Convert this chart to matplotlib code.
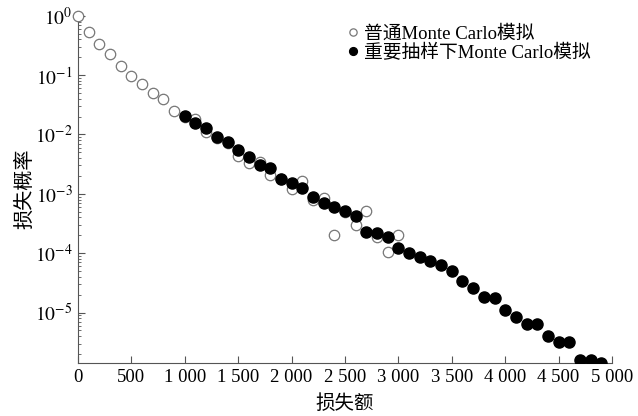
import matplotlib
matplotlib.use("Agg")
import matplotlib.pyplot as plt
from matplotlib.ticker import FixedLocator, LogLocator, NullFormatter

plt.rcParams["font.family"] = ["Liberation Serif", "Noto Sans CJK SC"]
plt.rcParams["mathtext.fontset"] = "stix"

# plain Monte Carlo estimate
mc_loss = [0, 100, 200, 300, 400, 500, 600, 700, 800, 900,
           1000, 1100, 1200, 1300, 1400, 1500, 1600, 1700, 1800, 1900,
           2000, 2100, 2200, 2300, 2400, 2500, 2600, 2700, 2800, 2900, 3000]
mc_prob = [1.0, 0.54, 0.33, 0.224, 0.144, 0.096, 0.071, 0.049, 0.039, 0.025,
           0.020, 0.018, 0.011, 0.0087, 0.0072, 0.0043, 0.0033, 0.0034, 0.0021, 0.0018,
           0.0012, 0.00166, 0.00079, 0.00085, 0.000204, 0.0005, 0.0003, 0.00052,
           0.00019, 0.000105, 0.000204]

# importance sampling estimate
is_loss = [1000, 1100, 1200, 1300, 1400, 1500, 1600, 1700, 1800, 1900,
           2000, 2100, 2200, 2300, 2400, 2500, 2600, 2700, 2800, 2900,
           3000, 3100, 3200, 3300, 3400, 3500, 3600, 3700, 3800, 3900,
           4000, 4100, 4200, 4300, 4400, 4500, 4600, 4700, 4800, 4900]
is_prob = [0.0202, 0.0156, 0.0127, 0.0092, 0.0074, 0.0055, 0.0042, 0.0030, 0.0027, 0.00178,
           0.00153, 0.00124, 0.00090, 0.00071, 0.00061, 0.00052, 0.00042, 0.000231, 0.000217, 0.00019,
           0.000123, 0.000102, 8.6e-5, 7.5e-5, 6.2e-5, 5.1e-5, 3.4e-5, 2.6e-5, 1.8e-5, 1.78e-5,
           1.12e-5, 8.3e-6, 6.5e-6, 6.5e-6, 4.07e-6, 3.2e-6, 3.2e-6, 1.58e-6, 1.6e-6, 1.4e-6]

x_ticks = [0, 500, 1000, 1500, 2000, 2500, 3000, 3500, 4000, 4500, 5000]
x_labels = ["0", "500", "1 000", "1 500", "2 000", "2 500", "3 000",
            "3 500", "4 000", "4 500", "5 000"]

fig = plt.figure(figsize=(6.38, 4.16), dpi=100)
ax = fig.add_axes([0.1223, 0.1274, 0.8369, 0.8389])

ax.plot(mc_loss, mc_prob, "o", ms=7.5, mfc="white", mec="#777777", mew=0.9,
        clip_on=False, zorder=3, label="普通Monte Carlo模拟")
ax.plot(is_loss, is_prob, "o", ms=8, mfc="black", mec="black",
        zorder=4, label="重要抽样下Monte Carlo模拟")

ax.set_yscale("log")
ax.set_xlim(0, 5000)
ax.set_ylim(1.41e-6, 1.07)

ax.xaxis.set_major_locator(FixedLocator(x_ticks))
ax.set_xticklabels(x_labels)
ax.yaxis.set_major_locator(FixedLocator([1, 1e-1, 1e-2, 1e-3, 1e-4, 1e-5]))
ax.set_yticklabels([r"$10^{0}$", r"$10^{-1}$", r"$10^{-2}$", r"$10^{-3}$",
                    r"$10^{-4}$", r"$10^{-5}$"])
ax.yaxis.set_minor_locator(LogLocator(base=10, subs=range(2, 10), numticks=20))
ax.yaxis.set_minor_formatter(NullFormatter())

for s in ["top", "right"]:
    ax.spines[s].set_visible(False)
for s in ["left", "bottom"]:
    ax.spines[s].set_color("#555555")
    ax.spines[s].set_linewidth(0.8)

ax.tick_params(axis="both", which="both", direction="in", color="#555555")
ax.tick_params(axis="x", which="major", length=5, labelsize=13.5, pad=4)
ax.tick_params(axis="y", which="major", length=5, labelsize=14, pad=4)
ax.tick_params(axis="y", which="minor", length=2.5)

ax.set_xlabel("损失额", fontsize=14, labelpad=6)
ax.set_ylabel("损失概率", fontsize=14.5, labelpad=0)

ax.legend(loc="upper right", bbox_to_anchor=(0.985, 1.005), frameon=False,
          fontsize=13.5, markerscale=0.7, handlelength=0.6, handletextpad=0.3,
          labelspacing=0.05, borderaxespad=0.3)

fig.savefig("out.png", dpi=100)
